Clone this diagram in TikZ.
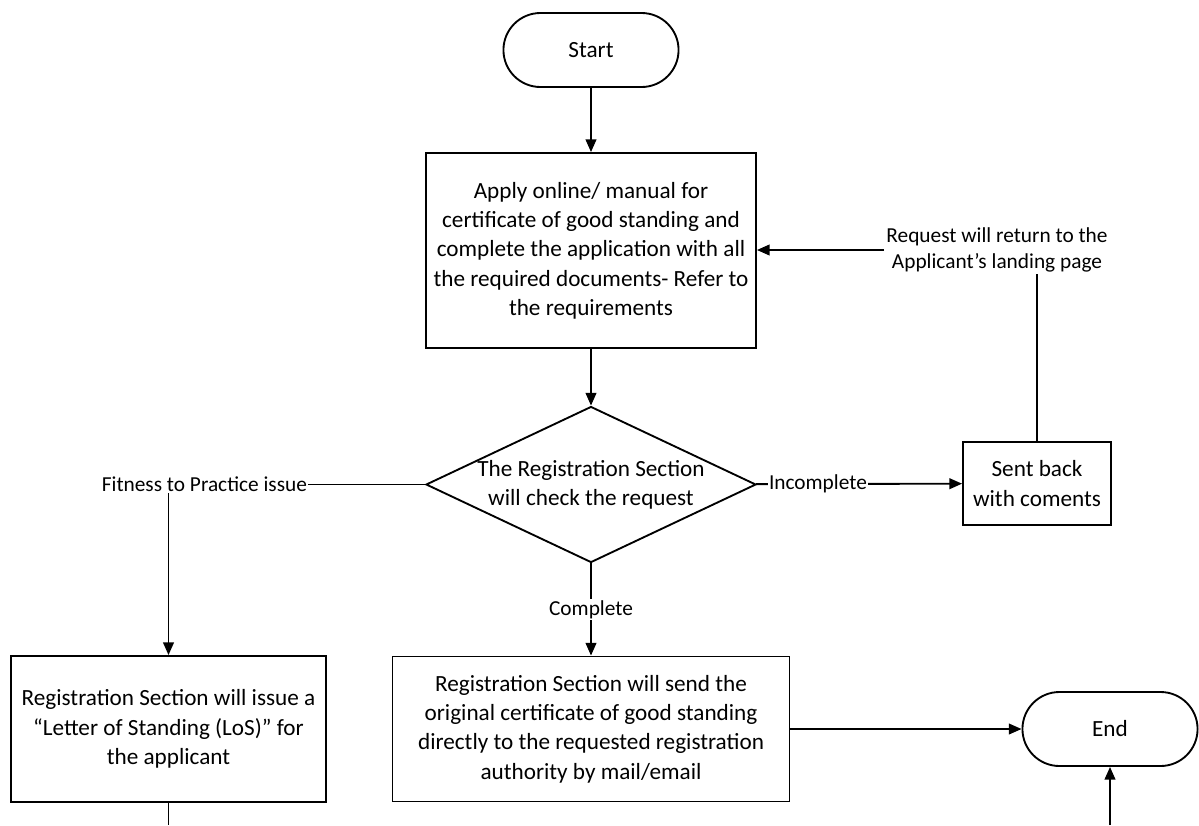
\documentclass[tikz,border=0pt]{standalone}
\usepackage{fontspec}
\setmainfont{Carlito}
\usetikzlibrary{shapes.geometric, shapes.misc, arrows.meta, positioning}

\begin{document}
\begin{tikzpicture}[x=0.75pt, y=-0.75pt, line width=1.4pt,
        >={Triangle[length=9.5pt, width=8pt]},
        font=\fontsize{17.4}{22}\selectfont,
        term/.style={rounded rectangle, draw, minimum width=138pt, minimum height=55.5pt},
        proc/.style={rectangle, draw, align=center, inner sep=0pt},
        decision/.style={diamond, draw, minimum width=247.5pt, minimum height=117pt, inner sep=0pt},
        lbl/.style={fill=white, inner sep=1pt, align=center, font=\fontsize{16}{19}\selectfont}
    ]
        \useasboundingbox (0, 0) rectangle (1199, 825);

        \node[term] (start) at (591, 50) {Start};
        \node[proc, minimum width=247.5pt, minimum height=146.25pt] (apply) at (591, 250.5) {Apply online/ manual for\\certificate of good standing and\\complete the application with all\\the required documents- Refer to\\the requirements};
        \node[decision] (check) at (591, 484.5) {};
        \node[align=center] (checktxt) at (check) {The Registration Section\\will check the request};
        \node[proc, minimum width=111pt, minimum height=62.25pt] (sent) at (1037, 483.5) {Sent back\\with coments};
        \node[lbl] (lblret) at (997, 250) {Request will return to the\\Applicant’s landing page};
        \node[proc, minimum width=236.25pt, minimum height=109.5pt] (los) at (168.5, 729) {Registration Section will issue a\\“Letter of Standing (LoS)” for\\the applicant};
        \node[proc, minimum width=297.75pt, minimum height=108.75pt] (send) at (591, 729) {Registration Section will send the\\original certificate of good standing\\directly to the requested registration\\authority by mail/email};
        \node[term] (end) at (1110, 729) {End};
        \coordinate (losout) at (168.5, 825);
        \coordinate (endin) at (1110, 825);

        \draw[->] (start) -- (apply);
        \draw[->] (apply) -- (check);
        \draw[->] (check) -- node[lbl, pos=0.3] (lblinc) {Incomplete} (sent);
        \draw (sent.north) -- (sent.north |- lblret.south);
        \draw[->] (lblret.west) -- (apply.east |- lblret.west);
        \draw[->] (check.west) -| node[lbl, pos=0.43] (lblfit) {Fitness to Practice issue} (los.north);
        \draw[->] (check) -- node[lbl, pos=0.5] (lblcomp) {Complete} (send);
        \draw[->] (send) -- (end);
        \draw (los.south) -- (losout);
        \draw[->] (endin) -- (end.south);
    \end{tikzpicture}
\end{document}
